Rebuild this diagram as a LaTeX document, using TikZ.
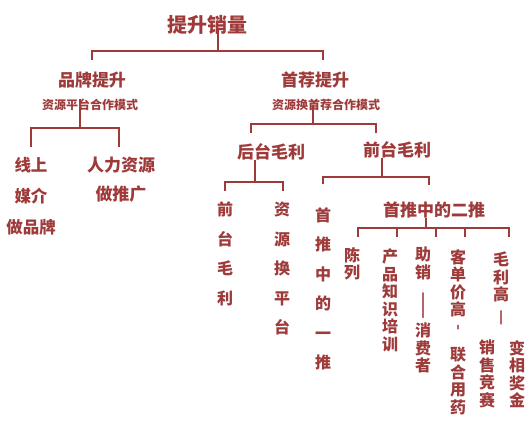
\documentclass[tikz,border=0pt]{standalone}
\usepackage{fontspec}
\setmainfont{Noto Sans CJK SC}
\newfontfamily\dashfont[FakeBold=3]{Noto Sans CJK SC}
\definecolor{brick}{RGB}{158,58,58}

\begin{document}
\begin{tikzpicture}[x=1pt, y=-1pt, text=brick,
    lvlA/.style={inner sep=0pt, font=\bfseries\fontsize{20}{24}\selectfont},
    lvlB/.style={inner sep=0pt, font=\bfseries\fontsize{17}{20}\selectfont},
    note/.style={inner sep=0pt, font=\bfseries\fontsize{12}{14}\selectfont},
    col/.style={inner sep=0pt, anchor=north, align=center,
                font=\bfseries\fontsize{16}{29.5}\selectfont},
    colS/.style={inner sep=0pt, anchor=north, align=center,
                 font=\bfseries\fontsize{16}{17.5}\selectfont},
    link/.style={draw=brick, line width=2pt}]

  \useasboundingbox[fill=white] (0,0) rectangle (531,422);

  %% Root
  \node[lvlA] (root) at (207,25) {提升销量};

  %% Two branches
  \node[lvlB] (brand)    at (92,80)   {品牌提升};
  \node[note] (brandsub) at (90,105)  {资源平台合作模式};
  \node[lvlB] (rec)      at (315,80)  {首荐提升};
  \node[note] (recsub)   at (326,105) {资源换首荐合作模式};

  \draw[link] ([xshift=11pt,yshift=-4pt]root.center) -- ++(0,22)
    -| ([yshift=11.5pt]brand.north);
  \draw[link] ([xshift=11pt,yshift=-4pt]root.center) -- ++(0,22)
    -| ([xshift=8pt,yshift=11.5pt]rec.north);

  %% Brand children
  \node[col, font=\bfseries\fontsize{16.5}{31}\selectfont]
        (online) at (31,157)  {线上\\媒介\\做品牌};
  \node[col, font=\bfseries\fontsize{17}{29}\selectfont]
        (hr)     at (121,157) {人力资源\\做推广};
  \draw[link] ([xshift=-10pt]brandsub.north) -- ++(0,29)
    -| ([yshift=10pt]online.north);
  \draw[link] ([xshift=-10pt]brandsub.north) -- ++(0,29)
    -| ([xshift=-2pt,yshift=10pt]hr.north);

  %% Recommend children
  \node[lvlB] (back)  at (271,152) {后台毛利};
  \node[lvlB] (front) at (397,150) {前台毛利};
  \draw[link] ([xshift=-13pt]recsub.center) -- ++(0,19)
    -| ([xshift=-20pt,yshift=10.5pt]back.north);
  \draw[link] ([xshift=-13pt]recsub.center) -- ++(0,19)
    -| ([xshift=-21pt,yshift=8.5pt]front.north);

  %% Back margin columns
  \node[col] (frontcol) at (225,202) {前\\台\\毛\\利};
  \node[col] (swapcol)  at (282,202) {资\\源\\换\\平\\台};
  \draw[link] ([xshift=-16pt]back.south) -- ++(0,21.5)
    -| ([yshift=11pt]frontcol.north);
  \draw[link] ([xshift=-16pt]back.south) -- ++(0,21.5)
    -| ([xshift=1pt,yshift=11pt]swapcol.north);

  %% Front margin children
  \node[col]  (firstcol) at (323,207) {首\\推\\中\\的\\一\\推};
  \node[lvlB] (twopush)  at (434,210) {首推中的二推};
  \draw[link] ([xshift=-15pt]front.south) -- ++(0,19)
    -| ([yshift=23pt]firstcol.north);
  \draw[link] ([xshift=-15pt]front.south) -- ++(0,19)
    -| ([xshift=-5pt,yshift=16.5pt]twopush.north);

  %% Second push columns
  \node[colS] (display)  at (352,247) {陈\\列};
  \node[colS] (training) at (390,249) {产\\品\\知\\识\\培\\训};
  \node[colS] (promo)    at (423,247)
    {助\\销\\[12pt]\scalebox{1}[1.8]{\dashfont ︱}\\[3pt]消\\费\\者};
  \node[colS] (price)    at (458,249)
    {客\\单\\价\\高\\{\dashfont ︲}\\[10pt]联\\合\\用\\药};
  \node[colS] (margin)   at (501,252) {毛\\利\\高\\[5pt]{\dashfont ︱}};
  \node[colS] (contest)  at (487,340) {销\\售\\竞\\赛};
  \node[colS] (bonus)    at (517,340) {变\\相\\奖\\金};
  \foreach \kid/\dx/\dy in {display/6/10, training/7/12, promo/13/10,
                            price/7/12, margin/8/15}
    \draw[link] ([xshift=-8pt]twopush.south) -- ++(0,9.5)
      -| ([xshift=\dx pt,yshift=\dy pt]\kid.north);
\end{tikzpicture}
\end{document}
